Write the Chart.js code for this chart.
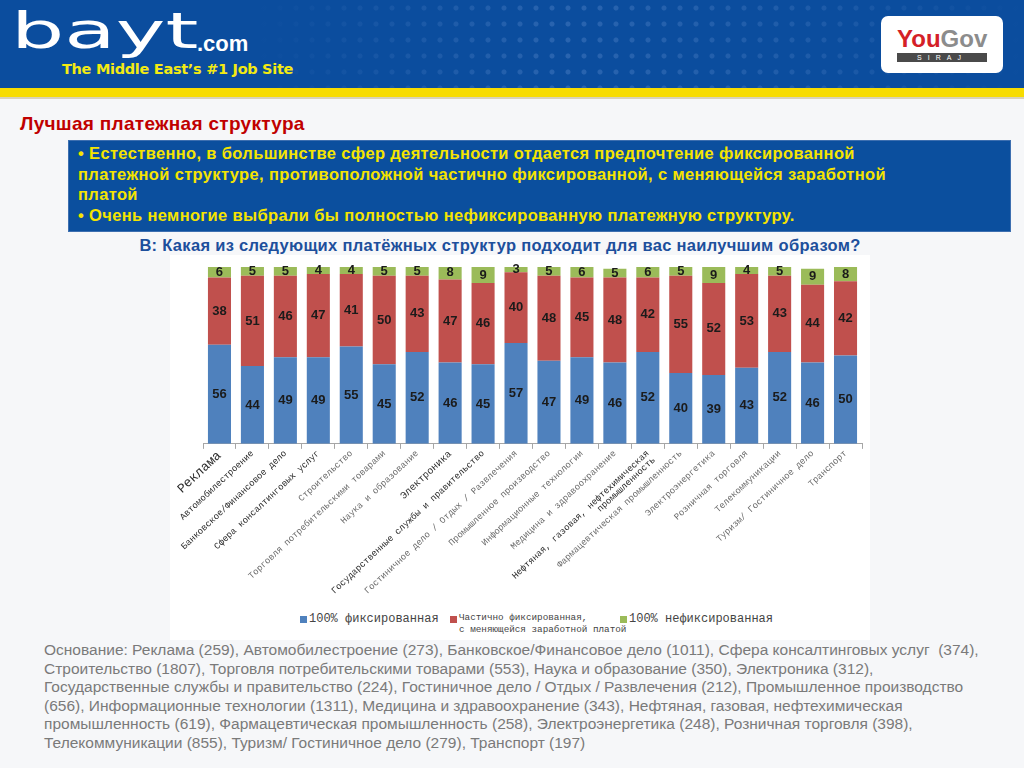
<!DOCTYPE html>
<html lang="ru">
<head>
<meta charset="UTF-8">
<title>Лучшая платежная структура</title>
<script src="https://cdn.jsdelivr.net/npm/chart.js"></script>
<style>
    body {
        margin: 0;
        width: 1024px;
        height: 768px;
        overflow: hidden;
        position: relative;
        font-family: "Liberation Sans", Arial, sans-serif;
        background: #f6f7f9;
    }
    .header {
        position: absolute; left: 0; top: 0; width: 1024px; height: 88px;
        background-color: #0b4d9e;
        background-image: radial-gradient(circle, rgba(120,160,220,0.35) 2px, transparent 3px);
        background-size: 16px 16px;
    }
    .header .shade {
        position: absolute; left: 0; top: 0; width: 1024px; height: 88px;
        background: linear-gradient(90deg, #0b4d9e 0%, #0b4d9e 25%, rgba(11,77,158,0.2) 55%, rgba(11,77,158,0.5) 80%, #0b4d9e 100%);
    }
    .yellow { position: absolute; left: 0; top: 88px; width: 1024px; height: 9px; background: #f7dc00; }
    .tan { position: absolute; left: 0; top: 97px; width: 1024px; height: 2px; background: #d8d2b8; }
    .bayt {
        position: absolute; left: 11px; top: 6px;
        font-family: "DejaVu Sans", sans-serif; font-size: 50px; line-height: 50px; color: #fff;
        transform: scaleX(1.68); transform-origin: left top;
    }
    .dotcom { position: absolute; left: 197px; top: 33px; font-family: "Liberation Sans Narrow", "Liberation Sans", sans-serif; font-size: 22px; line-height: 22px; color: #fff; font-weight: bold; }
    .tagline { position: absolute; left: 62px; top: 61px; font-size: 14.5px; font-weight: bold; color: #f3ea12; font-family: "DejaVu Sans", sans-serif; letter-spacing: -0.3px; }
    .yougov { position: absolute; left: 881px; top: 16px; width: 122px; height: 57px; background: #fff; border-radius: 7px; }
    .yougov .name { position: absolute; left: 16px; top: 9px; font-size: 24px; font-weight: bold; font-family: "Liberation Sans Narrow", "Liberation Sans", sans-serif; }
    .yougov .you { color: #d42027; }
    .yougov .gov { color: #8c8c8c; }
    .yougov .siraj { position: absolute; left: 16px; top: 37px; width: 90px; height: 9px; background: #4a4a4a; color: #fff; font-size: 7px; line-height: 9px; text-align: center; letter-spacing: 6px; }
    .title { position: absolute; left: 20px; top: 113px; font-size: 19px; font-weight: bold; color: #c00000; letter-spacing: 0.3px; }
    .box {
        position: absolute; left: 68px; top: 140px; width: 932px; height: 88px;
        background: #0b4f9e; border: 1px solid #3d6fb0;
        padding: 2px 0 0 9px;
        color: #f5e400; font-weight: bold; font-size: 16.5px; line-height: 20.5px; letter-spacing: 0.35px;
    }
    .question { position: absolute; left: 100px; top: 236px; width: 800px; text-align: center; font-size: 16.5px; font-weight: bold; color: #1d4f9c; letter-spacing: 0.3px; }
    .chart-wrap { position: absolute; left: 170px; top: 255px; width: 700px; height: 385px; background: #fff; }
    .chart-wrap canvas { position: absolute; left: 0; top: 0; }
    .legend { position: absolute; left: 0; top: 359px; width: 700px; font-family: "Liberation Mono", "Courier New", monospace; color: #444; }
    .legend .item { position: absolute; top: 0; white-space: nowrap; }
    .legend .sw { position: absolute; left: 0; top: 2px; width: 7px; height: 7px; }
    .legend .txt { position: absolute; left: 9px; top: -2px; }
    .note { position: absolute; left: 44px; top: 641px; font-size: 15.5px; line-height: 18.6px; color: #7a7a7a; }
</style>
</head>
<body>
<div class="header"><div class="shade"></div>
    <div class="bayt">bayt</div>
    <div class="dotcom">.com</div>
    <div class="tagline">The Middle East’s #1 Job Site</div>
    <div class="yougov">
        <div class="name"><span class="you">You</span><span class="gov">Gov</span></div>
        <div class="siraj">SIRAJ</div>
    </div>
</div>
<div class="yellow"></div>
<div class="tan"></div>

<div class="title">Лучшая платежная структура</div>
<div class="box">
    • Естественно, в большинстве сфер деятельности отдается предпочтение фиксированной<br>
    платежной структуре, противоположной частично фиксированной, с меняющейся заработной<br>
    платой<br>
    • Очень немногие выбрали бы полностью нефиксированную платежную структуру.
</div>
<div class="question">В: Какая из следующих платёжных структур подходит для вас наилучшим образом?</div>

<div class="chart-wrap">
    <canvas id="chart" width="700" height="347"></canvas>
    <div class="legend" id="legend"></div>
</div>

<div class="note">
    Основание: Реклама (259), Автомобилестроение (273), Банковское/Финансовое дело (1011), Сфера консалтинговых услуг&nbsp; (374),<br>
    Строительство (1807), Торговля потребительскими товарами (553), Наука и образование (350), Электроника (312),<br>
    Государственные службы и правительство (224), Гостиничное дело / Отдых / Развлечения (212), Промышленное производство<br>
    (656), Информационные технологии (1311), Медицина и здравоохранение (343), Нефтяная, газовая, нефтехимическая<br>
    промышленность (619), Фармацевтическая промышленность (258), Электроэнергетика (248), Розничная торговля (398),<br>
    Телекоммуникации (855), Туризм/ Гостиничное дело (279), Транспорт (197)
</div>

<script>
    const categories = [
        'Реклама',
        'Автомобилестроение',
        'Банковское/Финансовое дело',
        'Сфера консалтинговых услуг',
        'Строительство',
        'Торговля потребительскими товарами',
        'Наука и образование',
        'Электроника',
        'Государственные службы и правительство',
        'Гостиничное дело / Отдых / Развлечения',
        'Промышленное производство',
        'Информационные технологии',
        'Медицина и здравоохранение',
        ['Нефтяная, газовая, нефтехимическая', 'промышленность'],
        'Фармацевтическая промышленность',
        'Электроэнергетика',
        'Розничная торговля',
        'Телекоммуникации',
        'Туризм/ Гостиничное дело',
        'Транспорт'
    ];

    const fixedPay   = [56, 44, 49, 49, 55, 45, 52, 46, 45, 57, 47, 49, 46, 52, 40, 39, 43, 52, 46, 50];
    const partialPay = [38, 51, 46, 47, 41, 50, 43, 47, 46, 40, 48, 45, 48, 42, 55, 52, 53, 43, 44, 42];
    const nonFixed   = [ 6,  5,  5,  4,  4,  5,  5,  8,  9,  3,  5,  6,  5,  6,  5,  9,  4,  5,  9,  8];

    const seriesNames = [
        ['100% фиксированная'],
        ['Частично фиксированная,', 'с меняющейся заработной платой'],
        ['100% нефиксированная']
    ];
    const seriesColors = ['#4f81bd', '#c0504d', '#9bbb59'];

    // labels that look darker / bigger on the slide
    const darkLabels = [0, 1, 2, 3, 7, 8, 13];

    // numbers inside each segment
    const segmentLabels = {
        id: 'segmentLabels',
        afterDatasetsDraw(chart) {
            const ctx = chart.ctx;
            ctx.save();
            ctx.font = 'bold 13px "Liberation Sans", Arial, sans-serif';
            ctx.fillStyle = '#1b1b1b';
            ctx.textAlign = 'center';
            ctx.textBaseline = 'middle';
            chart.data.datasets.forEach((ds, i) => {
                const meta = chart.getDatasetMeta(i);
                meta.data.forEach((bar, j) => {
                    const y = (bar.y + bar.base) / 2;
                    ctx.fillText(ds.data[j], bar.x, y);
                });
            });
            ctx.restore();
        }
    };

    const ctx = document.getElementById('chart').getContext('2d');
    const chart = new Chart(ctx, {
        type: 'bar',
        data: {
            labels: categories,
            datasets: seriesNames.map((name, i) => ({
                label: name.join(' '),
                data: [fixedPay, partialPay, nonFixed][i],
                backgroundColor: seriesColors[i]
            }))
        },
        options: {
            responsive: false,
            animation: false,
            devicePixelRatio: 1,
            barPercentage: 0.7,
            categoryPercentage: 1.0,
            layout: { padding: { top: 12, left: 33, right: 8, bottom: 0 } },
            scales: {
                x: {
                    stacked: true,
                    border: { display: true, color: '#a6a6a6' },
                    grid: { display: true, drawOnChartArea: false, drawTicks: true, tickLength: 5, color: '#a6a6a6', offset: true },
                    ticks: {
                        autoSkip: false,
                        minRotation: 43,
                        maxRotation: 43,
                        padding: 0,
                        color: (c) => darkLabels.includes(c.index) ? '#2a2a2a' : '#6b6b6b',
                        font: (c) => ({
                            family: '"Liberation Mono", "Courier New", monospace',
                            size: c.index === 0 ? 13 : (c.index === 7 ? 10 : 9),
                            lineHeight: 1.0
                        })
                    }
                },
                y: {
                    stacked: true,
                    display: false,
                    min: 0,
                    max: 100
                }
            },
            plugins: {
                legend: { display: false },
                tooltip: { enabled: false }
            }
        },
        plugins: [segmentLabels]
    });

    // legend below the chart, built from the series
    const legendPos = [130, 280, 450];
    const legendSize = [12, 9.3, 12];
    const legendEl = document.getElementById('legend');
    chart.data.datasets.forEach((ds, i) => {
        const item = document.createElement('div');
        item.className = 'item';
        item.style.left = legendPos[i] + 'px';
        const sw = document.createElement('div');
        sw.className = 'sw';
        sw.style.background = ds.backgroundColor;
        const txt = document.createElement('div');
        txt.className = 'txt';
        txt.style.fontSize = legendSize[i] + 'px';
        txt.style.lineHeight = (i === 1 ? 12 : 14) + 'px';
        txt.innerHTML = seriesNames[i].join('<br>');
        item.appendChild(sw);
        item.appendChild(txt);
        legendEl.appendChild(item);
    });
</script>
</body>
</html>
